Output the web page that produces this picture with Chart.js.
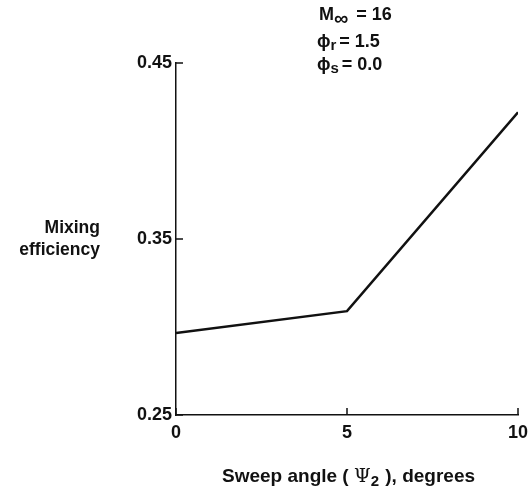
<!DOCTYPE html>
<html>
<head>
<meta charset="utf-8">
<script src="https://cdn.jsdelivr.net/npm/chart.js@4"></script>
<style>
  html, body { margin: 0; padding: 0; background: #fff; }
  #wrap { width: 529px; height: 495px; }
</style>
</head>
<body>
<div id="wrap"><canvas id="myChart" width="529" height="495"></canvas></div>
<script>
const sweepAngle = [0, 5, 10];
const mixingEff = [0.2966, 0.309, 0.422];
const xTicks = [0, 5, 10];
const yTicks = [0.25, 0.35, 0.45];

const FONT = '"Liberation Sans", Arial, sans-serif';

// inward ticks + free text
const decor = {
  id: 'decor',
  afterDraw(chart) {
    const c = chart.ctx;
    const xs = chart.scales.x, ys = chart.scales.y;
    const a = chart.chartArea;
    c.save();
    c.strokeStyle = '#111';
    c.lineWidth = 1.5;
    c.beginPath();
    yTicks.forEach(v => {
      const py = ys.getPixelForValue(v);
      c.moveTo(a.left, py); c.lineTo(a.left + 7, py);
    });
    xTicks.forEach(v => {
      const px = xs.getPixelForValue(v);
      c.moveTo(px, a.bottom); c.lineTo(px, a.bottom - 7);
    });
    c.stroke();

    c.fillStyle = '#111';
    c.textBaseline = 'middle';
    // y title
    c.font = 'bold 17.5px ' + FONT;
    c.textAlign = 'right';
    c.fillText('Mixing', 100, 228);
    c.fillText('efficiency', 100, 250);

    // x title with subscript
    c.textAlign = 'left';
    c.font = 'bold 19px ' + FONT;
    let x = 222, y = 477;
    const t1 = 'Sweep angle ( ';
    c.fillText(t1, x, y); x += c.measureText(t1).width;
    c.font = '19px "DejaVu Serif", serif';
    c.fillText('Ψ', x, y); x += c.measureText('Ψ').width;
    c.font = 'bold 15px ' + FONT;
    c.fillText('2', x, y + 5); x += c.measureText('2').width + 1;
    c.font = 'bold 19px ' + FONT;
    c.fillText(' ), degrees', x, y);

    // top notes
    const note = (main, sub, subSize, rest, nx, ny) => {
      c.font = 'bold 18px ' + FONT;
      c.fillText(main, nx, ny); nx += c.measureText(main).width;
      c.font = 'bold ' + subSize + 'px ' + FONT;
      c.fillText(sub, nx, ny + 4); nx += c.measureText(sub).width + 3;
      c.font = 'bold 18px ' + FONT;
      c.fillText(rest, nx, ny);
    };
    note('M', '∞', 20, ' = 16', 319, 15);
    note('ϕ', 'r', 15, '= 1.5', 317, 42);
    note('ϕ', 's', 15, '= 0.0', 317, 65);
    c.restore();
  }
};

new Chart(document.getElementById('myChart'), {
  type: 'line',
  data: {
    datasets: [{
      data: sweepAngle.map((v, i) => ({ x: v, y: mixingEff[i] })),
      borderColor: '#111',
      borderWidth: 2.5,
      pointRadius: 0,
      tension: 0,
      fill: false
    }]
  },
  options: {
    responsive: false,
    animation: false,
    layout: { padding: { top: 63, right: 0, left: 0, bottom: 0 } },
    plugins: { legend: { display: false }, tooltip: { enabled: false } },
    scales: {
      x: {
        type: 'linear', min: 0, max: 10,
        afterBuildTicks: s => { s.ticks = xTicks.map(v => ({ value: v })); },
        afterFit: s => { s.height = 80; s.paddingRight = 11; },
        grid: { display: false, drawTicks: false },
        border: { color: '#111', width: 1.5 },
        ticks: { color: '#111', padding: 7, font: { family: FONT, size: 18, weight: 'bold' } }
      },
      y: {
        min: 0.25, max: 0.45,
        afterBuildTicks: s => { s.ticks = yTicks.map(v => ({ value: v })); },
        afterFit: s => { s.width = 176; },
        grid: { display: false, drawTicks: false },
        border: { color: '#111', width: 1.5 },
        ticks: { color: '#111', padding: 4, callback: v => v.toFixed(2),
                 font: { family: FONT, size: 18, weight: 'bold' } }
      }
    }
  },
  plugins: [decor]
});
</script>
</body>
</html>
